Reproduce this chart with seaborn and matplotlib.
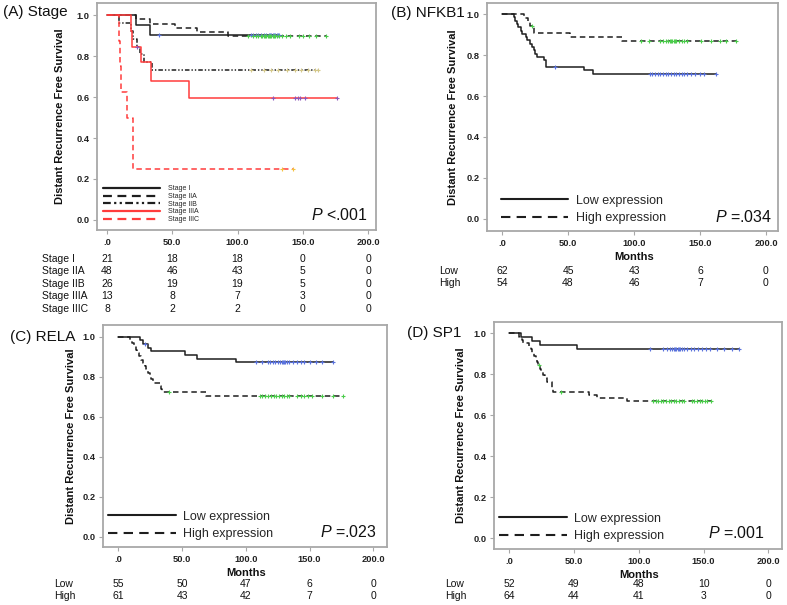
import numpy as np
import pandas as pd
import matplotlib
matplotlib.use("Agg")
import matplotlib.pyplot as plt
import matplotlib.transforms as mtransforms
from matplotlib.lines import Line2D
import seaborn as sns

# ---------------- data ----------------
# Panel A: Stage
stage_names = ["Stage I", "Stage IIA", "Stage IIB", "Stage IIIA", "Stage IIIC"]
a_I_t = [0, 22, 33]
a_I_s = [1.0, 0.952, 0.905]
a_I_end = 132
a_I_cens = [40, 110, 112, 114, 116, 118, 120, 122, 124, 125, 126, 127, 128, 129, 130, 131, 132]

a_IIA_t = [0, 22, 33, 52, 69, 93]
a_IIA_s = [1.0, 0.979, 0.958, 0.938, 0.917, 0.896]
a_IIA_end = 168
a_IIA_cens = [108, 112, 114, 116, 118, 119, 120, 121, 122, 123, 124, 125, 126, 127, 128,
              129, 130, 132, 134, 137, 140, 147, 150, 155, 160, 168]

a_IIB_t = [0, 9, 18, 20, 23, 25.5, 28, 34.5]
a_IIB_s = [1.0, 0.962, 0.923, 0.885, 0.846, 0.808, 0.769, 0.731]
a_IIB_end = 162
a_IIB_cens = [110, 120, 126, 131, 138, 144, 149, 154, 159, 162]

a_IIIA_t = [0, 18, 19.5, 26, 33.5, 62.5]
a_IIIA_s = [1.0, 0.923, 0.846, 0.769, 0.677, 0.593]
a_IIIA_end = 176.5
a_IIIA_cens = [23, 127.5, 144, 146, 148, 151.5, 176.5]

a_IIIC_t = [0, 9, 10, 11, 15, 20]
a_IIIC_s = [1.0, 0.875, 0.75, 0.625, 0.5, 0.25]
a_IIIC_end = 142.5
a_IIIC_cens = [134, 142.5]

risk_times = [0, 50, 100, 150, 200]
a_risk = [[21, 18, 18, 0, 0],
          [48, 46, 43, 5, 0],
          [26, 19, 19, 5, 0],
          [13, 8, 7, 3, 0],
          [8, 2, 2, 0, 0]]

# Panel B: NFKB1
b_low_t = [0, 9, 10, 11, 12, 14, 15, 18, 19, 21, 22.5, 24, 25, 26.5, 32, 33.5, 62, 69]
b_low_s = [1.0, 0.984, 0.968, 0.952, 0.935, 0.919, 0.903, 0.887, 0.871, 0.855, 0.839,
           0.823, 0.806, 0.790, 0.774, 0.742, 0.726, 0.709]
b_low_end = 162
b_low_cens = [40, 112, 114, 116, 118, 120, 122, 124, 126, 128, 130, 132, 134, 136, 138,
              140, 143, 146, 150, 153, 162]
b_high_t = [0, 16.5, 19.5, 21, 24, 24.5, 51.5, 91]
b_high_s = [1.0, 0.981, 0.963, 0.944, 0.925, 0.906, 0.887, 0.868]
b_high_end = 177
b_high_cens = [22.5, 105, 111, 120, 122, 124, 126, 127, 128, 129, 130, 131, 132, 134, 136,
               138, 140, 151, 158, 165, 170, 177]
b_risk = [[62, 45, 43, 6, 0], [54, 48, 46, 7, 0]]

# Panel C: RELA
c_low_t = [0, 17, 19.5, 23.5, 26, 52, 62, 92.5]
c_low_s = [1.0, 0.982, 0.964, 0.945, 0.927, 0.908, 0.890, 0.871]
c_low_end = 168.5
c_low_cens = [21, 108, 113, 117, 119, 121, 123, 125, 127, 128, 129, 130, 131, 132, 134,
              137, 140, 143, 146, 150, 155, 160, 168.5]
c_high_t = [0, 9, 10.5, 12, 13.5, 15, 16.5, 18, 19.5, 21, 22, 23, 24.5, 26, 27, 33,
            33.5, 34, 69]
c_high_s = [1.0, 0.984, 0.967, 0.951, 0.934, 0.918, 0.902, 0.885, 0.869, 0.852, 0.836,
            0.820, 0.803, 0.787, 0.770, 0.754, 0.738, 0.721, 0.705]
c_high_end = 176.5
c_high_cens = [39.5, 111, 113, 115, 117, 120, 122, 124, 126, 128, 130, 132, 134, 140,
               143, 146, 149, 152, 160, 168, 176.5]
c_risk = [[55, 50, 47, 6, 0], [61, 43, 42, 7, 0]]

# Panel D: SP1
d_low_t = [0, 9.5, 17.5, 24, 52.5]
d_low_s = [1.0, 0.981, 0.962, 0.942, 0.923]
d_low_end = 177
d_low_cens = [108.5, 119, 122, 124, 126, 127, 128, 129, 130, 131, 132, 133, 135, 137,
              140, 143, 146, 149, 152, 155, 160, 166, 172, 177]
d_high_t = [0, 7.5, 10, 10.5, 15.5, 17, 18, 19.5, 20.5, 21.5, 22.5, 24, 25, 26.5, 28,
            29.5, 33, 33.5, 34, 62, 68, 91]
d_high_s = [1.0, 0.984, 0.969, 0.953, 0.938, 0.922, 0.906, 0.891, 0.875, 0.859, 0.844,
            0.828, 0.812, 0.796, 0.780, 0.764, 0.748, 0.732, 0.716, 0.700, 0.684, 0.669]
d_high_end = 156
d_high_cens = [23, 40, 111, 113, 115, 117, 119, 121, 123, 125, 127, 129, 131, 133, 135,
               141, 143, 145, 147, 149, 151, 153, 156]
d_risk = [[52, 49, 48, 10, 0], [64, 44, 41, 3, 0]]

group_names = ["Low", "High"]
legend_labels = ["Low expression", "High expression"]
x_ticks = [0, 50, 100, 150, 200]
x_ticklabels = [".0", "50.0", "100.0", "150.0", "200.0"]
y_ticks = [0.0, 0.2, 0.4, 0.6, 0.8, 1.0]
y_ticklabels = ["0.0", "0.2", "0.4", "0.6", "0.8", "1.0"]
p_values = ["<.001", "=.034", "=.023", "=.001"]
titles = ["(A) Stage", "(B) NFKB1", "(C) RELA", "(D) SP1"]

# ---------------- style ----------------
sns.set_theme(style="white")
plt.rcParams['font.family'] = ['Liberation Sans', 'DejaVu Sans']
plt.rcParams['mathtext.fontset'] = 'custom'
plt.rcParams['mathtext.it'] = 'Liberation Sans:italic'
plt.rcParams['mathtext.rm'] = 'Liberation Sans'

W, H = 787, 605
fig = plt.figure(figsize=(W / 100, H / 100), dpi=100)

BLACK = "#1e1e1e"
RED = "#ff3c3c"
BLUE = "#5a72dc"
GREEN = "#4ccc4c"
KHAKI = "#d4c88a"
PURPLE = "#9058b8"
ORANGE = "#f5c040"
FRAME = "#a8a8a8"

SOLID = None
DASH = (3.6, 2.4)
DASHDOT = (3.0, 1.3, 0.9, 1.3, 0.9, 1.3)


def make_ax(x0, y0, x1, y1, xlim, ylim):
    ax = fig.add_axes([x0 / W, 1 - y1 / H, (x1 - x0) / W, (y1 - y0) / H])
    ax.set_xlim(*xlim)
    ax.set_ylim(*ylim)
    for sp in ax.spines.values():
        sp.set_color(FRAME)
        sp.set_linewidth(1.3)
    ax.set_xticks(x_ticks)
    ax.set_xticklabels(x_ticklabels, fontsize=6.7, fontweight='bold', color="#222222")
    ax.set_yticks(y_ticks)
    ax.set_yticklabels(y_ticklabels, fontsize=6.7, fontweight='bold', color="#222222")
    ax.tick_params(axis='both', which='major', length=3, width=0.8, color=FRAME,
                   direction='out', bottom=True, left=True, pad=2.5)
    return ax


def draw_curve(ax, t, s, end, cens, color, dashes, ccolor, lw=1.1):
    df = pd.DataFrame({"t": list(t) + [end], "s": list(s) + [s[-1]]})
    sns.lineplot(data=df, x="t", y="s", drawstyle="steps-post", color=color,
                 linewidth=lw, estimator=None, sort=False, ax=ax)
    line = ax.lines[-1]
    if dashes is not None:
        line.set_dashes(dashes)
    idx = np.searchsorted(np.asarray(t, float), np.asarray(cens, float), side="right") - 1
    lev = np.asarray(s)[idx]
    sns.scatterplot(x=cens, y=lev, marker="+", s=12, color=ccolor, linewidth=0.8,
                    ax=ax, zorder=5)


def finish(ax, ylab_x, p_text, px, py):
    ax.set_xlabel("")
    ax.set_ylabel("Distant Recurrence Free Survival", fontsize=8, fontweight='bold',
                  color="#111111")
    ax.yaxis.set_label_coords(ylab_x, 0.5)
    ax.text(px, py, r"$\mathit{P}$ " + p_text, transform=ax.transAxes, ha="right",
            va="center", fontsize=11.5, color="#111111")


def risk_table(ax, names, rows, label_x, ys, months_y=None):
    tr = mtransforms.blended_transform_factory(ax.transData, fig.transFigure)
    for name, row, y in zip(names, rows, ys):
        fig.text(label_x / W, 1 - y / H, name, ha="left", va="center", fontsize=7.5,
                 color="#111111")
        for tt, n in zip(risk_times, row):
            ax.text(tt, 1 - y / H, str(n), transform=tr, ha="center", va="center",
                    fontsize=7.5, color="#111111", clip_on=False)
    if months_y is not None:
        ax.text(100, 1 - months_y / H, "Months", transform=tr, ha="center",
                va="center", fontsize=8, fontweight='bold', color="#111111",
                clip_on=False)


# ---------------- Panel A ----------------
axA = make_ax(97, 3, 376, 230, (-7.7, 206.1), (-0.049, 1.059))
draw_curve(axA, a_I_t, a_I_s, a_I_end, a_I_cens, BLACK, SOLID, BLUE)
draw_curve(axA, a_IIA_t, a_IIA_s, a_IIA_end, a_IIA_cens, BLACK, DASH, GREEN)
draw_curve(axA, a_IIB_t, a_IIB_s, a_IIB_end, a_IIB_cens, BLACK, DASHDOT, KHAKI)
draw_curve(axA, a_IIIA_t, a_IIIA_s, a_IIIA_end, a_IIIA_cens, RED, SOLID, PURPLE)
draw_curve(axA, a_IIIC_t, a_IIIC_s, a_IIIC_end, a_IIIC_cens, RED, DASH, ORANGE)
hA = [Line2D([], [], color=BLACK, lw=1.6),
      Line2D([], [], color=BLACK, lw=1.6, dashes=(4, 2.5)),
      Line2D([], [], color=BLACK, lw=1.6, dashes=(3.5, 1.5, 1, 1.5, 1, 1.5)),
      Line2D([], [], color=RED, lw=1.6),
      Line2D([], [], color=RED, lw=1.6, dashes=(4, 2.5))]
axA.legend(hA, stage_names, loc="lower left", bbox_to_anchor=(0.021, 0.03),
           fontsize=5, handlelength=8.2, handletextpad=1.2, labelspacing=0.1,
           borderpad=0, borderaxespad=0, frameon=False)
finish(axA, -0.115, p_values[0], 0.971, 0.066)
risk_table(axA, stage_names, a_risk, 42, [258.5, 271, 283.5, 296, 308.5])

# ---------------- Panel B ----------------
def expr_legend(ax, x0):
    h = [Line2D([], [], color=BLACK, lw=1.5),
         Line2D([], [], color=BLACK, lw=1.5, dashes=(4.5, 3))]
    ax.legend(h, legend_labels, loc="lower left", bbox_to_anchor=(x0, 0.03),
              fontsize=9, handlelength=5.4, handletextpad=0.6, labelspacing=0.45,
              borderpad=0, borderaxespad=0, frameon=False)


axB = make_ax(487, 3, 778, 231, (-11.4, 209.1), (-0.059, 1.054))
draw_curve(axB, b_low_t, b_low_s, b_low_end, b_low_cens, BLACK, SOLID, BLUE)
draw_curve(axB, b_high_t, b_high_s, b_high_end, b_high_cens, BLACK, DASH, GREEN)
expr_legend(axB, 0.048)
finish(axB, -0.10, p_values[1], 0.979, 0.061)
risk_table(axB, group_names, b_risk, 439, [271, 283], months_y=257)

# ---------------- Panel C ----------------
axC = make_ax(103, 325, 387, 547, (-12.0, 210.7), (-0.052, 1.058))
draw_curve(axC, c_low_t, c_low_s, c_low_end, c_low_cens, BLACK, SOLID, BLUE)
draw_curve(axC, c_high_t, c_high_s, c_high_end, c_high_cens, BLACK, DASH, GREEN)
expr_legend(axC, 0.018)
finish(axC, -0.095, p_values[2], 0.965, 0.068)
risk_table(axC, group_names, c_risk, 54, [584, 596], months_y=573)

# ---------------- Panel D ----------------
axD = make_ax(494, 322, 782, 549, (-11.6, 210.5), (-0.052, 1.055))
draw_curve(axD, d_low_t, d_low_s, d_low_end, d_low_cens, BLACK, SOLID, BLUE)
draw_curve(axD, d_high_t, d_high_s, d_high_end, d_high_cens, BLACK, DASH, GREEN)
expr_legend(axD, 0.018)
finish(axD, -0.097, p_values[3], 0.941, 0.07)
risk_table(axD, group_names, d_risk, 445, [584, 596], months_y=575)

# ---------------- panel titles ----------------
for txt, (x, y) in zip(titles, [(3, 12), (391, 13), (10, 337), (407, 333)]):
    fig.text(x / W, 1 - y / H, txt, ha="left", va="center", fontsize=11,
             color="#111111")

fig.savefig("out.png", dpi=100)
